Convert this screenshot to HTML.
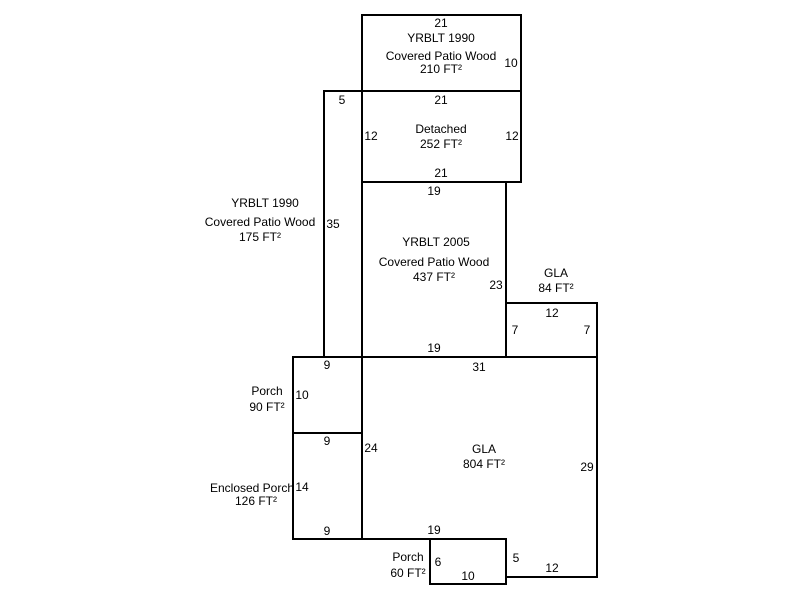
<!DOCTYPE html>
<html><head><style>html,body{margin:0;padding:0;background:#fff;}svg{display:block}text{font-family:"Liberation Sans",Arial,sans-serif;font-size:12px;fill:#000;text-anchor:middle}</style></head>
<body>
<svg width="800" height="600" viewBox="0 0 800 600" xmlns="http://www.w3.org/2000/svg">
<g fill="none" stroke="#000" stroke-width="2">
<rect x="362" y="15" width="159" height="76"/>
<rect x="362" y="91" width="159" height="91"/>
<rect x="324" y="91" width="38" height="266"/>
<rect x="362" y="182" width="144" height="175"/>
<rect x="506" y="303" width="91" height="54"/>
<path d="M362 357 H597 V577 H506 V539 H362 Z"/>
<rect x="430" y="539" width="76" height="45"/>
<rect x="293" y="357" width="69" height="76"/>
<rect x="293" y="433" width="69" height="106"/>
</g>
<text x="441" y="27">21</text>
<text x="441" y="42">YRBLT 1990</text>
<text x="441" y="60">Covered Patio Wood</text>
<text x="441" y="73">210 FT²</text>
<text x="511" y="67">10</text>
<text x="441" y="104">21</text>
<text x="342" y="104">5</text>
<text x="441" y="133">Detached</text>
<text x="441" y="148">252 FT²</text>
<text x="371" y="140">12</text>
<text x="512" y="140">12</text>
<text x="441" y="177">21</text>
<text x="434" y="195">19</text>
<text x="265" y="207">YRBLT 1990</text>
<text x="260" y="226">Covered Patio Wood</text>
<text x="260" y="241">175 FT²</text>
<text x="333" y="228">35</text>
<text x="436" y="246">YRBLT 2005</text>
<text x="434" y="266">Covered Patio Wood</text>
<text x="434" y="281">437 FT²</text>
<text x="496" y="289">23</text>
<text x="556" y="277">GLA</text>
<text x="556" y="292">84 FT²</text>
<text x="552" y="317">12</text>
<text x="515" y="334">7</text>
<text x="587" y="334">7</text>
<text x="434" y="352">19</text>
<text x="327" y="369">9</text>
<text x="479" y="371">31</text>
<text x="267" y="395">Porch</text>
<text x="267" y="411">90 FT²</text>
<text x="302" y="399">10</text>
<text x="327" y="445">9</text>
<text x="371" y="452">24</text>
<text x="484" y="453">GLA</text>
<text x="484" y="468">804 FT²</text>
<text x="587" y="471">29</text>
<text x="252" y="492">Enclosed Porch</text>
<text x="256" y="505">126 FT²</text>
<text x="302" y="491">14</text>
<text x="327" y="535">9</text>
<text x="434" y="534">19</text>
<text x="408" y="561">Porch</text>
<text x="408" y="577">60 FT²</text>
<text x="438" y="566">6</text>
<text x="516" y="562">5</text>
<text x="552" y="572">12</text>
<text x="468" y="580">10</text>
</svg>
</body></html>
